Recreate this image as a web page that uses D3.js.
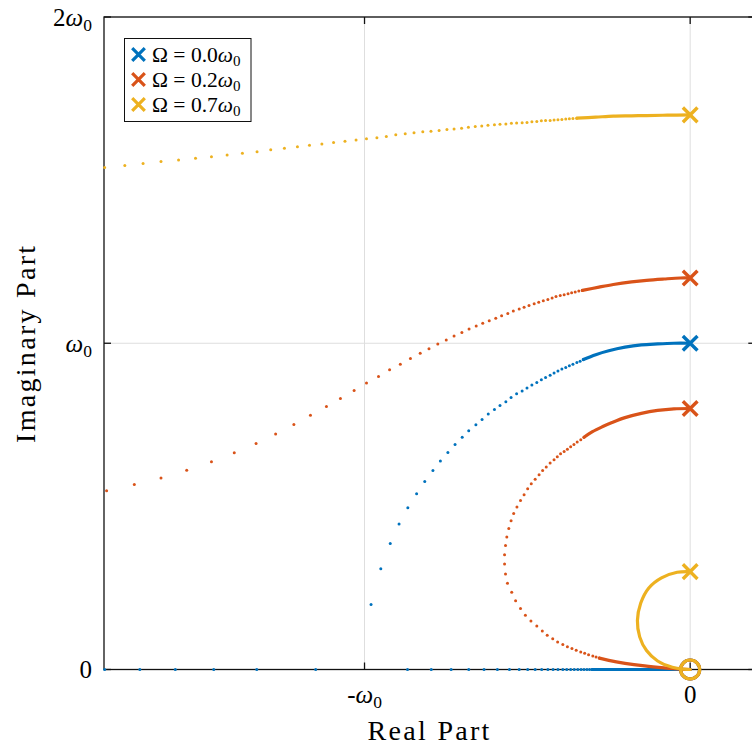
<!DOCTYPE html>
<html>
<head>
<meta charset="utf-8">
<script src="https://cdn.jsdelivr.net/npm/d3@7"></script>
<style>
  html, body { margin: 0; padding: 0; background: #fff; overflow: hidden; }
  text { font-family: "Liberation Serif", "Times New Roman", serif; fill: #000; }
</style>
</head>
<body>
<script>
// root locus, values in units of w0 : [real, imag]
const omegas = [0.0, 0.2, 0.7]
const colors = ["#0072BD", "#D95319", "#EDB120"]

const xTicks = [-1, 0]
const xTickLabels = ["-ω_0", "0"]
const yTicks = [0, 1, 2]
const yTickLabels = ["0", "ω_0", "2ω_0"]

// Omega = 0 : upper branch dots, then real axis dots
const blueDots = [
  [-0.980, 0.199], [-0.950, 0.309], [-0.921, 0.386], [-0.894, 0.446], [-0.867, 0.496],
  [-0.840, 0.539], [-0.815, 0.576], [-0.790, 0.610], [-0.767, 0.639], [-0.744, 0.665],
  [-0.722, 0.690], [-0.700, 0.712], [-0.680, 0.732], [-0.658, 0.750], [-0.639, 0.766],
  [-0.620, 0.783], [-0.601, 0.797], [-0.584, 0.809], [-0.566, 0.821], [-0.550, 0.834],
  [-0.533, 0.845], [-0.516, 0.854], [-0.501, 0.863], [-0.486, 0.872], [-0.471, 0.880],
  [-0.457, 0.888], [-0.444, 0.895], [-0.430, 0.902], [-0.418, 0.909], [-0.406, 0.915],
  [-0.394, 0.921], [-0.382, 0.926], [-0.371, 0.931], [-0.360, 0.936], [-0.348, 0.941],
  [-0.338, 0.945], [-0.328, 0.950],
  [-1.798, 0], [-1.690, 0], [-1.581, 0], [-1.463, 0], [-1.331, 0], [-1.150, 0],
  [-0.868, 0], [-0.795, 0], [-0.734, 0], [-0.680, 0], [-0.633, 0], [-0.592, 0],
  [-0.555, 0], [-0.525, 0], [-0.499, 0], [-0.476, 0], [-0.456, 0], [-0.437, 0],
  [-0.421, 0], [-0.406, 0], [-0.391, 0], [-0.379, 0], [-0.367, 0], [-0.356, 0],
  [-0.345, 0], [-0.335, 0], [-0.326, 0], [-0.317, 0], [-0.309, 0], [-0.301, 0]
]
const blueDense = [
  [[-0.328, 0.950], [-0.290, 0.965], [-0.250, 0.977], [-0.200, 0.988], [-0.150, 0.995],
   [-0.100, 0.998], [-0.050, 1.000], [0, 1]],
  [[-0.301, 0], [0, 0]]
]

// Omega = 0.2w0
const orangeDots = [
  [-1.792, 0.548], [-1.707, 0.567], [-1.625, 0.587], [-1.546, 0.611], [-1.470, 0.637],
  [-1.400, 0.664], [-1.333, 0.693], [-1.273, 0.722], [-1.217, 0.751], [-1.166, 0.779],
  [-1.117, 0.806], [-1.074, 0.831], [-1.032, 0.855], [-0.994, 0.878], [-0.957, 0.898],
  [-0.923, 0.919], [-0.890, 0.936], [-0.859, 0.953], [-0.829, 0.969], [-0.802, 0.983],
  [-0.775, 0.998], [-0.749, 1.010], [-0.725, 1.022], [-0.701, 1.033], [-0.679, 1.044],
  [-0.657, 1.053], [-0.637, 1.061], [-0.617, 1.069], [-0.597, 1.077], [-0.579, 1.084],
  [-0.560, 1.091], [-0.543, 1.099], [-0.525, 1.105], [-0.510, 1.110], [-0.495, 1.116],
  [-0.479, 1.121], [-0.465, 1.126], [-0.451, 1.130], [-0.437, 1.134], [-0.424, 1.139],
  [-0.412, 1.143], [-0.399, 1.146], [-0.387, 1.149], [-0.375, 1.152], [-0.364, 1.155],
  [-0.353, 1.157], [-0.342, 1.160], [-0.331, 1.162],
  [-0.326, 0.712], [-0.336, 0.704], [-0.347, 0.697], [-0.357, 0.690], [-0.367, 0.683],
  [-0.377, 0.675], [-0.387, 0.668], [-0.398, 0.661], [-0.408, 0.652], [-0.418, 0.643],
  [-0.430, 0.633], [-0.442, 0.621], [-0.453, 0.610], [-0.464, 0.597], [-0.476, 0.583],
  [-0.488, 0.569], [-0.499, 0.554], [-0.510, 0.536], [-0.521, 0.518], [-0.532, 0.498],
  [-0.542, 0.478], [-0.550, 0.456], [-0.557, 0.432], [-0.563, 0.406], [-0.567, 0.380],
  [-0.570, 0.352], [-0.570, 0.323], [-0.567, 0.293], [-0.561, 0.264], [-0.548, 0.237],
  [-0.536, 0.211], [-0.521, 0.187], [-0.506, 0.166], [-0.489, 0.149], [-0.471, 0.133],
  [-0.454, 0.118], [-0.439, 0.105], [-0.422, 0.094], [-0.407, 0.084], [-0.391, 0.077],
  [-0.377, 0.070], [-0.363, 0.064], [-0.350, 0.059], [-0.336, 0.054], [-0.324, 0.050],
  [-0.312, 0.045], [-0.299, 0.041], [-0.289, 0.038], [-0.279, 0.035]
]
const orangeDense = [
  [[-0.331, 1.162], [-0.280, 1.172], [-0.236, 1.180], [-0.180, 1.188], [-0.134, 1.193],
   [-0.080, 1.197], [-0.030, 1.200], [0, 1.2]],
  [[0, 0.8], [-0.050, 0.799], [-0.100, 0.794], [-0.150, 0.785], [-0.200, 0.772],
   [-0.240, 0.757], [-0.270, 0.744], [-0.300, 0.729], [-0.326, 0.712]],
  [[-0.279, 0.035], [-0.250, 0.028], [-0.200, 0.019], [-0.140, 0.011], [-0.080, 0.005],
   [-0.030, 0.001], [0, 0]]
]

// Omega = 0.7w0
const yellowDots = [
  [-1.798, 1.539], [-1.736, 1.545], [-1.680, 1.551], [-1.625, 1.557], [-1.571, 1.562],
  [-1.519, 1.567], [-1.470, 1.572], [-1.422, 1.577], [-1.375, 1.582], [-1.330, 1.587],
  [-1.288, 1.593], [-1.246, 1.598], [-1.206, 1.602], [-1.169, 1.607], [-1.131, 1.611],
  [-1.095, 1.615], [-1.060, 1.619], [-1.026, 1.623], [-0.994, 1.627], [-0.962, 1.630],
  [-0.933, 1.634], [-0.904, 1.639], [-0.875, 1.642], [-0.848, 1.645], [-0.821, 1.648],
  [-0.796, 1.650], [-0.771, 1.652], [-0.747, 1.655], [-0.725, 1.657], [-0.702, 1.659],
  [-0.681, 1.662], [-0.660, 1.664], [-0.640, 1.666], [-0.621, 1.668], [-0.601, 1.670],
  [-0.584, 1.671], [-0.566, 1.672], [-0.549, 1.674], [-0.533, 1.675], [-0.516, 1.676],
  [-0.501, 1.677], [-0.486, 1.679], [-0.471, 1.680], [-0.457, 1.682], [-0.444, 1.683],
  [-0.430, 1.683], [-0.418, 1.684], [-0.406, 1.685], [-0.394, 1.686], [-0.382, 1.687],
  [-0.371, 1.688], [-0.360, 1.689], [-0.348, 1.690]
]
const yellowDense = [
  [[-0.348, 1.690], [-0.290, 1.693], [-0.236, 1.696], [-0.180, 1.697], [-0.134, 1.698],
   [-0.070, 1.699], [0, 1.7]],
  [[0, 0.3], [-0.040, 0.298], [-0.088, 0.281], [-0.127, 0.250], [-0.152, 0.203],
   [-0.162, 0.150], [-0.155, 0.100], [-0.134, 0.058], [-0.100, 0.026], [-0.055, 0.007],
   [-0.020, 0.001], [0, 0]]
]

const poles = [
  [[0, 1]],
  [[0, 1.2], [0, 0.8]],
  [[0, 1.7], [0, 0.3]]
]
const zeros = [[0, 0]]

const series = [
  { dots: blueDots, dense: blueDense },
  { dots: orangeDots, dense: orangeDense },
  { dots: yellowDots, dense: yellowDense }
]

let width = 752
let height = 749
const pLeft = 104, pTop = 17, pRight = 755.3, pBottom = 669.5

const x = d3.scaleLinear().domain([-1.8, 0.2]).range([pLeft, pRight])
const y = d3.scaleLinear().domain([0, 2]).range([pBottom, pTop])

const svg = d3.select("body").append("svg")
  .attr("width", width)
  .attr("height", height)

// write strings like "2ω_0" with italic omega and subscripts
function mathText(sel, str) {
  for (let i = 0; i < str.length; i++) {
    let c = str[i]
    if (c === "_") {
      sel.append("tspan").attr("font-size", "0.7em").attr("dy", "0.3em").text(str[i + 1])
      i++
    } else if (c === "ω") {
      sel.append("tspan").attr("font-style", "italic").text(c)
    } else {
      sel.append("tspan").text(c)
    }
  }
}

// grid
svg.append("g").selectAll("line")
  .data(xTicks).enter().append("line")
  .attr("x1", d => x(d)).attr("x2", d => x(d))
  .attr("y1", pTop).attr("y2", pBottom)
  .attr("stroke", "#dedede").attr("stroke-width", 1)
svg.append("g").selectAll("line")
  .data(yTicks).enter().append("line")
  .attr("x1", pLeft).attr("x2", pRight)
  .attr("y1", d => y(d)).attr("y2", d => y(d))
  .attr("stroke", "#dedede").attr("stroke-width", 1)

// box + ticks (inward)
const axisCol = "#111"
svg.append("rect")
  .attr("x", pLeft).attr("y", pTop)
  .attr("width", pRight - pLeft).attr("height", pBottom - pTop)
  .attr("fill", "none").attr("stroke", axisCol).attr("stroke-width", 1.3)

const tk = 7
xTicks.forEach(t => {
  svg.append("line").attr("x1", x(t)).attr("x2", x(t)).attr("y1", pBottom).attr("y2", pBottom - tk)
    .attr("stroke", axisCol).attr("stroke-width", 1.3)
  svg.append("line").attr("x1", x(t)).attr("x2", x(t)).attr("y1", pTop).attr("y2", pTop + tk)
    .attr("stroke", axisCol).attr("stroke-width", 1.3)
})
yTicks.forEach(t => {
  svg.append("line").attr("x1", pLeft).attr("x2", pLeft + tk).attr("y1", y(t)).attr("y2", y(t))
    .attr("stroke", axisCol).attr("stroke-width", 1.3)
  svg.append("line").attr("x1", pRight).attr("x2", pRight - tk).attr("y1", y(t)).attr("y2", y(t))
    .attr("stroke", axisCol).attr("stroke-width", 1.3)
})

// tick labels
xTicks.forEach((t, i) => {
  let tx = svg.append("text").attr("x", x(t)).attr("y", 703)
    .attr("text-anchor", "middle").attr("font-size", 25)
  mathText(tx, xTickLabels[i])
})
yTicks.forEach((t, i) => {
  let ty = svg.append("text").attr("x", 92).attr("y", y(t) + 8.5)
    .attr("text-anchor", "end").attr("font-size", 25)
  mathText(ty, yTickLabels[i])
})

// axis titles
svg.append("text")
  .attr("x", (pLeft + pRight) / 2).attr("y", 740)
  .attr("text-anchor", "middle").attr("font-size", 28).attr("letter-spacing", 2.3)
  .text("Real Part")
svg.append("text")
  .attr("transform", `translate(35, ${(pTop + pBottom) / 2}) rotate(-90)`)
  .attr("text-anchor", "middle").attr("font-size", 28).attr("letter-spacing", 2.3)
  .text("Imaginary Part")

// loci
const line = d3.line().x(d => x(d[0])).y(d => y(d[1])).curve(d3.curveCatmullRom)

function xMark(g, px, py, s, col, w) {
  g.append("path")
    .attr("d", `M${px - s},${py - s}L${px + s},${py + s}M${px - s},${py + s}L${px + s},${py - s}`)
    .attr("stroke", col).attr("stroke-width", w).attr("fill", "none")
}

series.forEach((s, i) => {
  let g = svg.append("g")
  g.selectAll("path")
    .data(s.dense).enter().append("path")
    .attr("d", line)
    .attr("fill", "none").attr("stroke", colors[i]).attr("stroke-width", 3.2)
    .attr("stroke-linecap", "round").attr("stroke-linejoin", "round")
  g.selectAll("circle")
    .data(s.dots).enter().append("circle")
    .attr("cx", d => x(d[0])).attr("cy", d => y(d[1]))
    .attr("r", 1.5).attr("fill", colors[i])
  poles[i].forEach(p => xMark(g, x(p[0]), y(p[1]), 7.3, colors[i], 3.4))
  zeros.forEach(z => {
    g.append("circle").attr("cx", x(z[0])).attr("cy", y(z[1])).attr("r", 9.5)
      .attr("fill", "none").attr("stroke", colors[i]).attr("stroke-width", 3.2)
  })
})

// legend
const lg = svg.append("g")
lg.append("rect").attr("x", 124.5).attr("y", 38.5).attr("width", 126.5).attr("height", 83)
  .attr("fill", "#fff").attr("stroke", "#111").attr("stroke-width", 1)
omegas.forEach((o, i) => {
  let cy = 54.5 + i * 25
  xMark(lg, 138.5, cy, 6.3, colors[i], 3.2)
  let t = lg.append("text").attr("x", 152).attr("y", cy + 7.2).attr("font-size", 21.5)
  mathText(t, "Ω = " + o.toFixed(1) + "ω_0")
})
</script>
</body>
</html>
